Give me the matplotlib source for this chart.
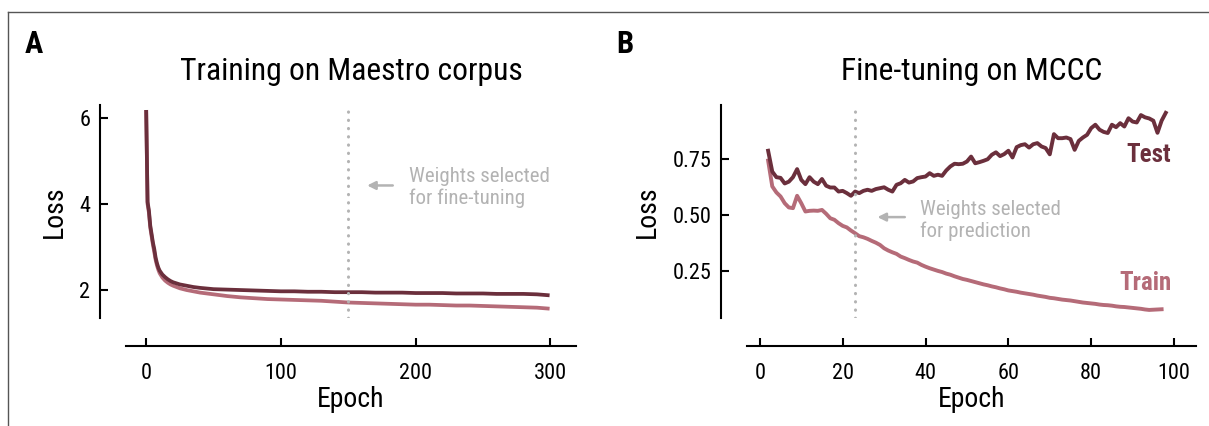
import matplotlib
matplotlib.use('Agg')
import matplotlib.pyplot as plt
from matplotlib.lines import Line2D

# --- data ---
epochs_a = [0, 1, 2, 3, 4, 5, 6, 7, 8, 9, 10, 12, 14, 16, 18, 20, 25, 30, 35, 40,
            50, 60, 70, 80, 90, 100, 110, 120, 130, 140, 150, 160, 170, 180, 190,
            200, 210, 220, 230, 240, 250, 260, 270, 280, 290, 298]
test_a = [6.14, 4.05, 3.85, 3.5, 3.3, 3.1, 2.95, 2.75, 2.62, 2.52, 2.45, 2.36, 2.30,
          2.25, 2.21, 2.18, 2.13, 2.10, 2.07, 2.05, 2.02, 2.01, 2.0, 1.99, 1.98, 1.97,
          1.97, 1.96, 1.96, 1.95, 1.95, 1.95, 1.94, 1.94, 1.94, 1.93, 1.93, 1.93,
          1.92, 1.92, 1.92, 1.91, 1.91, 1.91, 1.90, 1.88]
train_a = [6.14, 4.0, 3.8, 3.45, 3.25, 3.05, 2.88, 2.7, 2.57, 2.47, 2.39, 2.29, 2.22,
           2.17, 2.13, 2.10, 2.04, 2.0, 1.97, 1.94, 1.90, 1.86, 1.83, 1.81, 1.79, 1.78,
           1.77, 1.76, 1.75, 1.73, 1.71, 1.70, 1.69, 1.68, 1.67, 1.66, 1.66, 1.65,
           1.64, 1.64, 1.63, 1.62, 1.61, 1.60, 1.59, 1.57]

epochs_b_test = list(range(2, 99))
test_b = [0.786, 0.693, 0.668, 0.665, 0.640, 0.648, 0.668, 0.704, 0.656, 0.637,
          0.668, 0.648, 0.637, 0.660, 0.630, 0.622, 0.622, 0.604, 0.607, 0.597,
          0.585, 0.604, 0.597, 0.607, 0.612, 0.607, 0.615, 0.619, 0.623, 0.612,
          0.604, 0.634, 0.641, 0.656, 0.644, 0.649, 0.664, 0.668, 0.671, 0.686,
          0.674, 0.679, 0.674, 0.698, 0.716, 0.728, 0.726, 0.728, 0.738, 0.760,
          0.730, 0.735, 0.741, 0.748, 0.768, 0.779, 0.762, 0.771, 0.786, 0.756,
          0.802, 0.811, 0.815, 0.800, 0.815, 0.820, 0.805, 0.798, 0.770, 0.860,
          0.842, 0.842, 0.845, 0.838, 0.790, 0.830, 0.845, 0.857, 0.887, 0.902,
          0.880, 0.870, 0.865, 0.902, 0.891, 0.909, 0.894, 0.931, 0.916, 0.912,
          0.945, 0.935, 0.930, 0.920, 0.866, 0.920, 0.955]

epochs_b_train = list(range(2, 98))
train_b = [0.742, 0.627, 0.600, 0.582, 0.552, 0.533, 0.530, 0.585, 0.552, 0.515,
           0.518, 0.519, 0.518, 0.522, 0.505, 0.485, 0.478, 0.463, 0.451, 0.444,
           0.430, 0.418, 0.405, 0.400, 0.393, 0.384, 0.376, 0.366, 0.351, 0.341,
           0.333, 0.326, 0.314, 0.307, 0.299, 0.292, 0.287, 0.277, 0.269, 0.262,
           0.256, 0.250, 0.245, 0.238, 0.233, 0.226, 0.220, 0.214, 0.210, 0.205,
           0.200, 0.195, 0.190, 0.186, 0.181, 0.177, 0.172, 0.168, 0.163, 0.160,
           0.157, 0.153, 0.150, 0.147, 0.144, 0.140, 0.137, 0.134, 0.130, 0.128,
           0.125, 0.122, 0.120, 0.118, 0.115, 0.112, 0.109, 0.107, 0.105, 0.103,
           0.100, 0.098, 0.097, 0.095, 0.092, 0.090, 0.089, 0.087, 0.085, 0.083,
           0.081, 0.078, 0.076, 0.077, 0.078, 0.079]

selected_a = 150
selected_b = 23

TEST_C = '#6b2f3c'
TRAIN_C = '#b56b78'
GREY = '#b3b3b3'

plt.rcParams['font.family'] = ['Roboto Condensed', 'DejaVu Sans']

fig = plt.figure(figsize=(12.09, 4.26), dpi=100)
W, H = 1209, 426


def make_axes(x0, x1, y0, y1):
    ax = fig.add_axes([x0 / W, 1 - y1 / H, (x1 - x0) / W, (y1 - y0) / H])
    for s in ['top', 'right']:
        ax.spines[s].set_visible(False)
    ax.spines['left'].set_position(('outward', 26 * 0.72))
    ax.spines['bottom'].set_position(('outward', 28 * 0.72))
    for s in ['left', 'bottom']:
        ax.spines[s].set_linewidth(1.5)
    ax.tick_params(direction='in', length=6, width=1.5, labelsize=16)
    ax.tick_params(axis='x', pad=12)
    ax.tick_params(axis='y', pad=7)
    ax.set_xlabel('Epoch', fontsize=20, labelpad=1.5)
    ax.set_ylabel('Loss', fontsize=20, labelpad=8)
    return ax


# panel A
ax1 = make_axes(126, 576, 105, 318)
ax1.plot(epochs_a, train_a, color=TRAIN_C, lw=2.7)
ax1.plot(epochs_a, test_a, color=TEST_C, lw=2.7)
ax1.axvline(selected_a, ymin=0, ymax=0.98, color=GREY, lw=2.2,
            linestyle=(0, (0.1, 2.6)), dash_capstyle='round')
ax1.set_xlim(-15, 319)
ax1.set_ylim(1.35, 6.3)
ax1.set_xticks([0, 100, 200, 300])
ax1.set_yticks([2, 4, 6])
ax1.set_title('Training on Maestro corpus', fontsize=22.8, pad=18)
ax1.annotate('', xy=(164, 4.43), xytext=(183, 4.43),
             arrowprops=dict(arrowstyle='-|>', color=GREY, lw=1.8,
                             mutation_scale=12, shrinkA=0, shrinkB=0))
ax1.text(195, 4.39, 'Weights selected\nfor fine-tuning', color=GREY,
         fontsize=15, va='center', ha='left', linespacing=1.15)

# panel B
ax2 = make_axes(747, 1196, 105, 318)
ax2.plot(epochs_b_train, train_b, color=TRAIN_C, lw=2.8)
ax2.plot(epochs_b_test, test_b, color=TEST_C, lw=2.8)
ax2.axvline(selected_b, color=GREY, lw=2.2,
            linestyle=(0, (0.1, 2.6)), dash_capstyle='round')
ax2.set_xlim(-3.1, 105.3)
ax2.set_ylim(0.04, 0.99)
ax2.set_xticks([0, 20, 40, 60, 80, 100])
ax2.set_yticks([0.25, 0.5, 0.75])
ax2.set_title('Fine-tuning on MCCC', fontsize=22.8, pad=18)
ax2.annotate('', xy=(28.4, 0.49), xytext=(35, 0.49),
             arrowprops=dict(arrowstyle='-|>', color=GREY, lw=1.8,
                             mutation_scale=12, shrinkA=0, shrinkB=0))
ax2.text(38.6, 0.475, 'Weights selected\nfor prediction', color=GREY,
         fontsize=15, va='center', ha='left', linespacing=1.15)
ax2.text(99.3, 0.768, 'Test', color=TEST_C, fontsize=18, fontweight='bold',
         ha='right', va='center')
ax2.text(99.3, 0.196, 'Train', color=TRAIN_C, fontsize=18, fontweight='bold',
         ha='right', va='center')

# panel letters
fig.text(34 / W, 1 - 44 / H, 'A', fontsize=22, fontweight='bold', ha='center', va='center')
fig.text(625 / W, 1 - 44 / H, 'B', fontsize=22, fontweight='bold', ha='center', va='center')

# partial frame
fig.add_artist(Line2D([8 / W, 1], [1 - 12 / H, 1 - 12 / H], transform=fig.transFigure,
                      color='#555555', lw=1))
fig.add_artist(Line2D([8 / W, 8 / W], [0, 1 - 12 / H], transform=fig.transFigure,
                      color='#555555', lw=1))

fig.savefig('out.png', dpi=100)
